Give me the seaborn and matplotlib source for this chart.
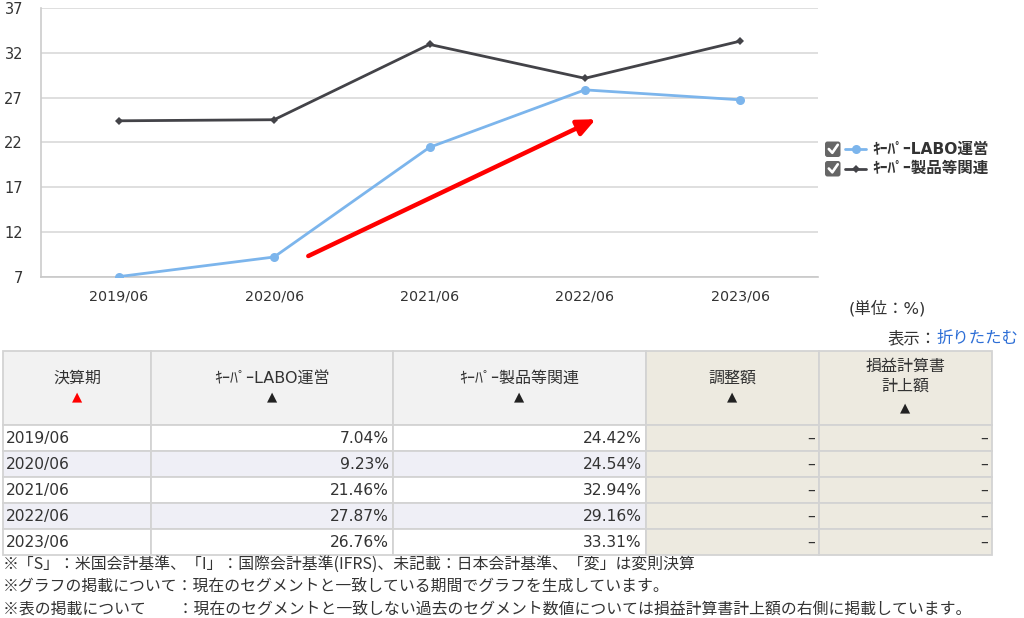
import numpy as np
import pandas as pd
import matplotlib
matplotlib.use("Agg")
import matplotlib.pyplot as plt
from matplotlib.patches import Rectangle, FancyBboxPatch
from matplotlib.lines import Line2D
import seaborn as sns

# ---------------- data ----------------
periods = ["2019/06", "2020/06", "2021/06", "2022/06", "2023/06"]
series_names = ["ｷｰﾊﾟｰLABO運営", "ｷｰﾊﾟｰ製品等関連"]
labo = [7.04, 9.23, 21.46, 27.87, 26.76]
products = [24.42, 24.54, 32.94, 29.16, 33.31]
adjust = ["–", "–", "–", "–", "–"]
pl_amount = ["–", "–", "–", "–", "–"]
y_ticks = [7, 12, 17, 22, 27, 32, 37]
table_headers = ["決算期", "ｷｰﾊﾟｰLABO運営", "ｷｰﾊﾟｰ製品等関連", "調整額", "損益計算書\n計上額"]
footnotes = [
    "※「S」：米国会計基準、「I」：国際会計基準(IFRS)、未記載：日本会計基準、「変」は変則決算",
    "※グラフの掲載について：現在のセグメントと一致している期間でグラフを生成しています。",
    "※表の掲載について　　：現在のセグメントと一致しない過去のセグメント数値については損益計算書計上額の右側に掲載しています。",
]
unit_text = "(単位：%)"

colors = {series_names[0]: "#7cb5ec", series_names[1]: "#434348"}
markers = {series_names[0]: "o", series_names[1]: "D"}

sns.set_theme(style="white")
plt.rcParams["font.family"] = ["DejaVu Sans", "Noto Sans CJK JP"]
TXT = "#333333"

df = pd.DataFrame({
    "x": list(range(len(periods))) * 2,
    "value": labo + products,
    "series": [series_names[0]] * len(periods) + [series_names[1]] * len(periods),
})

W, H = 1024, 618
fig = plt.figure(figsize=(W / 100, H / 100), dpi=100)
fig.patch.set_facecolor("white")

# overlay in pixel coordinates
ov = fig.add_axes([0, 0, 1, 1])
ov.set_xlim(0, W)
ov.set_ylim(H, 0)
ov.axis("off")

# ---------------- chart ----------------
L, R, T, B = 41, 818, 8, 277
ax = fig.add_axes([L / W, 1 - B / H, (R - L) / W, (B - T) / H])
ax.set_facecolor("none")
sns.lineplot(data=df, x="x", y="value", hue="series", style="series",
             palette=colors, markers=markers, dashes=False, linewidth=2,
             markersize=6.5, markeredgewidth=0, legend=False, ax=ax, zorder=3)
for line in ax.lines:
    if line.get_marker() == "D":
        line.set_markersize(4.5)

ax.set_xlim(-0.5, len(periods) - 0.5)
ax.set_ylim(y_ticks[0], y_ticks[-1])
ax.set_yticks(y_ticks)
ax.set_xticks(range(len(periods)))
ax.set_xticklabels(periods)
ax.set_xticks(np.arange(0.5, len(periods) - 1, 1.0), minor=True)
ax.set_xlabel("")
ax.set_ylabel("")
ax.grid(axis="y", color="#d9d9d9", linewidth=1.2)
ax.grid(axis="x", visible=False)
for s in ["top", "right"]:
    ax.spines[s].set_visible(False)
ax.spines["left"].set_color("#cccccc")
ax.spines["left"].set_linewidth(1.2)
ax.spines["bottom"].set_color("#c8c8c8")
ax.spines["bottom"].set_linewidth(1.2)
ax.tick_params(axis="y", length=0, pad=13, labelsize=10.5, labelcolor=TXT)
ax.tick_params(axis="x", which="major", length=0, pad=9, labelsize=10.3, labelcolor=TXT)
ax.tick_params(axis="x", which="minor", direction="in", length=7, width=1, color="#cccccc")

# red trend arrow (annotation)
ax.annotate("", xy=(3.07, 24.6), xytext=(1.22, 9.34),
            arrowprops=dict(arrowstyle="-|>,head_length=0.9,head_width=0.4",
                            color="#ff0000", lw=3.2, shrinkA=0, shrinkB=0),
            zorder=5)

# ---------------- legend ----------------
for i, name in enumerate(series_names):
    cy = 149 + i * 19.5
    ov.add_patch(FancyBboxPatch((825, cy - 7.5), 15.5, 15.5,
                                boxstyle="round,pad=0,rounding_size=2.5",
                                facecolor="#666666", edgecolor="none"))
    ov.add_line(Line2D([828.8, 832.3, 837.8], [cy, cy + 3.8, cy - 4.2],
                       color="white", lw=1.9, solid_capstyle="round"))
    ov.add_line(Line2D([845, 866], [cy, cy], color=colors[name], lw=2))
    ov.plot([855.5], [cy], marker=markers[name], color=colors[name],
            markersize=6.5 if markers[name] == "o" else 4.5, markeredgewidth=0)
    ov.text(872, cy, name, fontsize=11.2, fontweight="bold", color=TXT,
            va="center", ha="left")

# unit + toggle
ov.text(887.5, 308, unit_text, fontsize=11.8, color=TXT, va="center", ha="center")
ov.text(937, 338, "表示：", fontsize=11.8, color=TXT, va="center", ha="right")
ov.text(937, 338, "折りたたむ", fontsize=11.8, color="#2e6fd6", va="center", ha="left")

# ---------------- table ----------------
col_x = [3, 151, 393, 646, 819, 992]
h_top, h_bot, row_h = 351, 425, 26
border = "#d3d3d3"
head_bg = ["#f2f2f2", "#f2f2f2", "#f2f2f2", "#edeae0", "#edeae0"]
for j, head in enumerate(table_headers):
    x0, x1 = col_x[j], col_x[j + 1]
    ov.add_patch(Rectangle((x0, h_top), x1 - x0, h_bot - h_top,
                           facecolor=head_bg[j], edgecolor=border, lw=1.3))
    xc = (x0 + x1) / 2
    if "\n" in head:
        ov.text(xc, 376.5, head, fontsize=11.5, color=TXT, ha="center",
                va="center", linespacing=1.4)
        ov.text(xc, 408, "▲", fontsize=9.5, color="#222222", ha="center", va="center")
    else:
        ov.text(xc, 378, head, fontsize=11.5, color=TXT, ha="center", va="center")
        ov.text(xc, 397, "▲", fontsize=9.5,
                color="#ff0000" if j == 0 else "#222222", ha="center", va="center")

for i, p in enumerate(periods):
    y0 = h_bot + i * row_h
    row_vals = [p, f"{labo[i]:.2f}%", f"{products[i]:.2f}%", adjust[i], pl_amount[i]]
    for j, v in enumerate(row_vals):
        x0, x1 = col_x[j], col_x[j + 1]
        if j >= 3:
            bg = "#edeae0"
        else:
            bg = "#efeff6" if i % 2 == 1 else "white"
        ov.add_patch(Rectangle((x0, y0), x1 - x0, row_h,
                               facecolor=bg, edgecolor=border, lw=1.3))
        yc = y0 + row_h / 2 + 0.5
        if j == 0:
            ov.text(x0 + 3, yc, v, fontsize=11.2, color=TXT, ha="left", va="center")
        else:
            ov.text(x1 - 4, yc, v, fontsize=11.2, color=TXT, ha="right", va="center")

# ---------------- footnotes ----------------
for k, note in enumerate(footnotes):
    ov.text(3, 564 + k * 22.5, note, fontsize=11.4, color=TXT, ha="left",
            va="center", family=["Noto Sans CJK JP", "DejaVu Sans"])

fig.savefig("out.png", dpi=100, facecolor="white")
